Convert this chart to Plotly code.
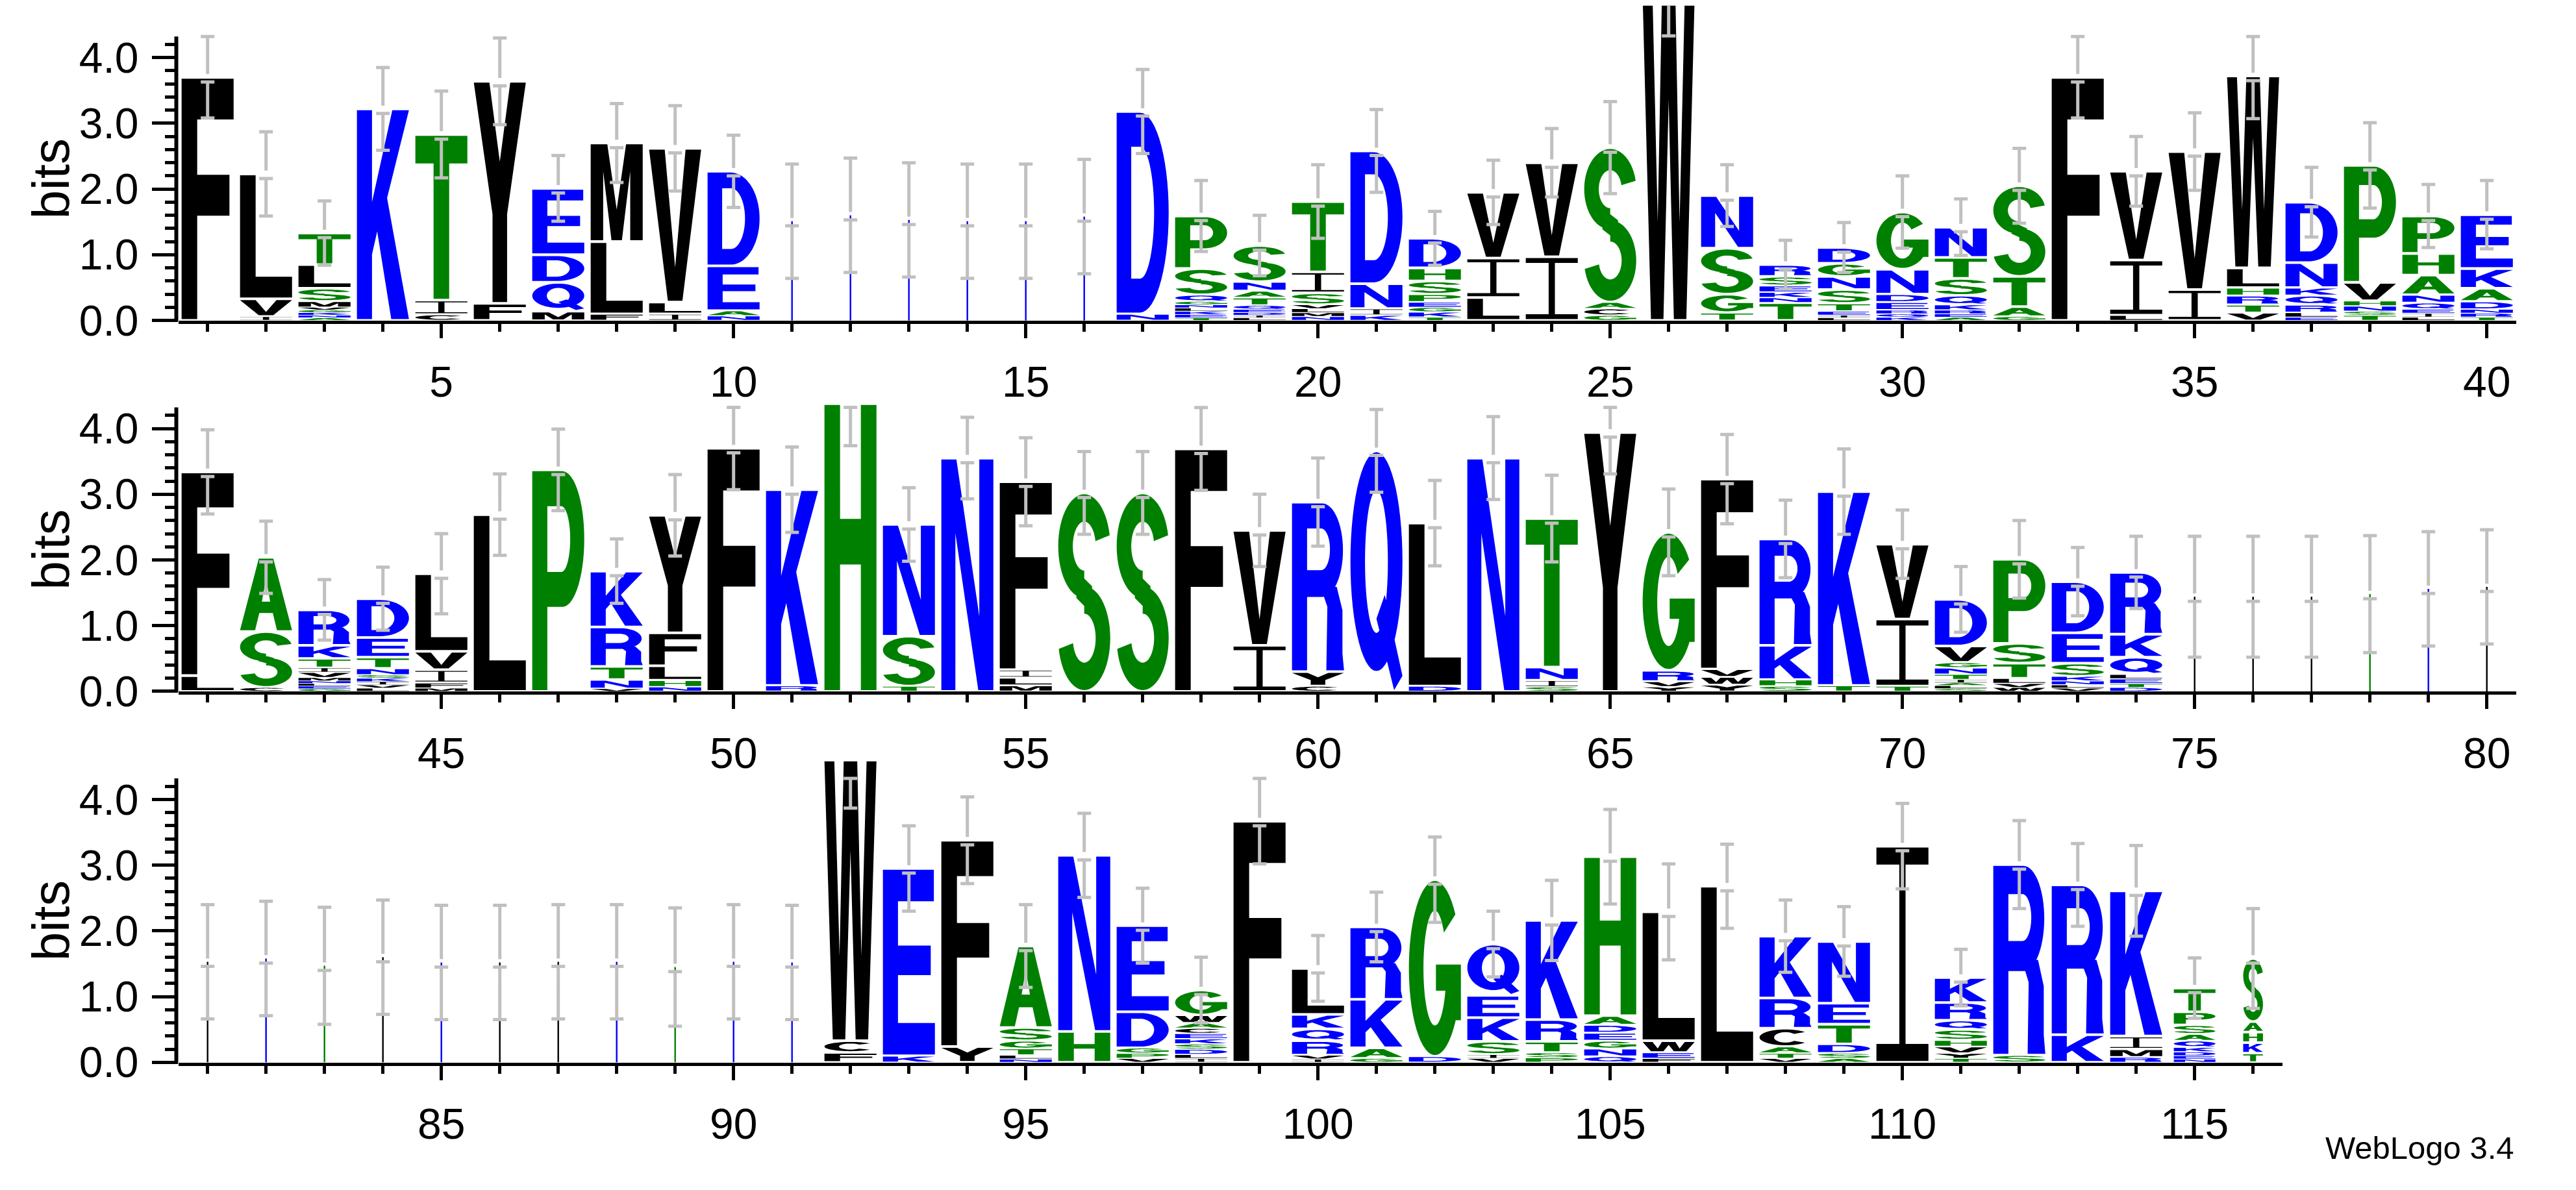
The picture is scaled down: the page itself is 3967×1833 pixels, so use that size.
import math
import plotly.graph_objects as go

# ---------------- data ----------------
# each entry: letters of one column from bottom to top, with their heights in bits
ROW1_LETTERS = ["F", "IVL", "ANKGVMSLT", "K", "CIT", "FY", "MQDE", "FLM", "ILV", "NAED",
                "D", "D", "D", "D", "D", "D", "ND", "TEKLNGQSP", "LIDEQTANS", "NMLVSIT",
                "KIND", "TKGEPSHD", "LIV", "IV", "GCAS", "W", "TGSN", "TNKESR", "LIETSNGD", "KQREDNG",
                "AERKQSTN", "GATS", "F", "LIV", "IV", "VTRHLW", "ELRQKND", "TSNHVP", "LIEQNAHP", "TRNDAKE"]
ROW1_HEIGHTS = [[3.70], [0.06, 0.27, 1.90], [0.04, 0.04, 0.04, 0.04, 0.04, 0.09, 0.20, 0.36, 0.48], [3.22],
                [0.09, 0.22, 2.52], [0.26, 3.38], [0.14, 0.44, 0.42, 1.01], [0.10, 1.10, 1.50],
                [0.10, 0.18, 2.34], [0.07, 0.08, 0.68, 1.44],
                [1.51], [1.60], [1.53], [1.51], [1.51], [1.58], [0.10, 3.08],
                [0.04, 0.05, 0.05, 0.05, 0.05, 0.05, 0.10, 0.40, 0.80],
                [0.04, 0.04, 0.04, 0.05, 0.06, 0.12, 0.10, 0.14, 0.55],
                [0.06, 0.06, 0.06, 0.06, 0.18, 0.32, 1.07],
                [0.08, 0.10, 0.38, 2.02], [0.05, 0.08, 0.07, 0.08, 0.12, 0.20, 0.20, 0.45],
                [0.35, 0.60, 1.00], [0.97, 1.43], [0.08, 0.10, 0.10, 2.35], [4.95],
                [0.12, 0.28, 0.70, 0.80], [0.27, 0.08, 0.08, 0.10, 0.14, 0.18],
                [0.04, 0.04, 0.06, 0.12, 0.21, 0.20, 0.20, 0.24], [0.05, 0.05, 0.06, 0.12, 0.12, 0.38, 0.87],
                [0.05, 0.05, 0.06, 0.08, 0.14, 0.26, 0.32, 0.46], [0.06, 0.15, 0.46, 1.38], [3.70],
                [0.08, 0.84, 1.35], [0.47, 2.10], [0.12, 0.12, 0.14, 0.12, 0.30, 2.92],
                [0.05, 0.07, 0.12, 0.14, 0.12, 0.38, 0.92], [0.08, 0.06, 0.08, 0.08, 0.28, 1.78],
                [0.05, 0.06, 0.06, 0.10, 0.12, 0.30, 0.33, 0.57], [0.05, 0.06, 0.06, 0.12, 0.20, 0.30, 0.82]]
ROW1_ERRORS = [0.62, 0.64, 0.49, 0.63, 0.66, 0.66, 0.50, 0.60, 0.65, 0.55,
               0.87, 0.87, 0.87, 0.87, 0.87, 0.87, 0.64, 0.54, 0.46, 0.56,
               0.63, 0.41, 0.49, 0.52, 0.70, 0.62, 0.47, 0.37, 0.38, 0.55,
               0.43, 0.57, 0.62, 0.53, 0.59, 0.65, 0.53, 0.65, 0.48, 0.52]
ROW1_WIDTHS = [1, 1, 1, 1, 1, 1, 1, 1, 1, 1,
               0.03, 0.03, 0.03, 0.03, 0.03, 0.03, 1, 1, 1, 1,
               1, 1, 1, 1, 1, 1, 1, 1, 1, 1,
               1, 1, 1, 1, 1, 1, 1, 1, 1, 1]

ROW2_LETTERS = ["LF", "CSA", "GELNMVITKR", "LVIKSNTED", "MFIVL", "L", "P", "VNTRK", "NHLFY", "F",
                "RK", "H", "TSN", "N", "MLIF", "S", "S", "F", "IV", "CYR",
                "Q", "DL", "N", "SINT", "Y", "YVRG", "YWVF", "SHKR", "TK", "TIV",
                "SLAITNGVD", "WVLTSP", "VLNKSED", "DTELQKR", "L", "L", "L", "G", "D", "L"]
ROW2_HEIGHTS = [[0.24, 3.10], [0.06, 0.85, 1.13], [0.04, 0.04, 0.04, 0.04, 0.05, 0.08, 0.07, 0.14, 0.20, 0.54],
                [0.05, 0.05, 0.05, 0.05, 0.05, 0.10, 0.17, 0.30, 0.59], [0.05, 0.08, 0.20, 0.28, 1.18],
                [2.69], [3.37], [0.04, 0.14, 0.20, 0.60, 0.85], [0.07, 0.10, 0.22, 0.50, 1.79], [3.70],
                [0.09, 2.98], [4.38], [0.08, 0.76, 1.70], [3.55], [0.09, 0.12, 0.12, 2.86], [3.02], [3.02],
                [3.69], [0.70, 1.75], [0.08, 0.22, 2.58],
                [3.66], [0.08, 2.48], [3.55], [0.07, 0.10, 0.20, 2.26], [3.94], [0.07, 0.08, 0.17, 2.10],
                [0.10, 0.12, 0.12, 2.89], [0.08, 0.10, 0.52, 1.62], [0.09, 2.95], [0.08, 1.02, 1.14],
                [0.04, 0.05, 0.04, 0.05, 0.08, 0.10, 0.08, 0.25, 0.71], [0.06, 0.06, 0.08, 0.23, 0.30, 1.28],
                [0.05, 0.05, 0.06, 0.07, 0.20, 0.46, 0.78], [0.06, 0.06, 0.07, 0.07, 0.26, 0.35, 0.94],
                [1.44], [1.44], [1.44], [1.48], [1.56], [1.59]]
ROW2_ERRORS = [0.64, 0.55, 0.46, 0.48, 0.61, 0.62, 0.62, 0.49, 0.62, 0.63,
               0.65, 0.64, 0.56, 0.62, 0.67, 0.63, 0.63, 0.63, 0.55, 0.67,
               0.63, 0.65, 0.63, 0.66, 0.63, 0.66, 0.68, 0.59, 0.65, 0.52,
               0.50, 0.59, 0.52, 0.55, 0.92, 0.92, 0.92, 0.89, 0.87, 0.87]
ROW2_WIDTHS = [1, 1, 1, 1, 1, 1, 1, 1, 1, 1,
               1, 1, 1, 1, 1, 1, 1, 1, 1, 1,
               1, 1, 1, 1, 1, 1, 1, 1, 1, 1,
               1, 1, 1, 1, 0.03, 0.03, 0.03, 0.03, 0.03, 0.03]

ROW3_LETTERS = ["L", "D", "G", "L", "D", "L", "L", "D", "G", "D",
                "D", "FCW", "KE", "YF", "NLTGSA", "HN", "VPGDE", "ILDSKECAWG", "F", "IVRQKL",
                "GAKR", "DG", "VISKEQ", "PSTRK", "QNGEDAH", "FEWL", "L", "VTACRK", "ASDTEN", "I",
                "TYVHSQRK", "SR", "KR", "RMIK", "NEDKQASPT", "TKHAS"]
ROW3_HEIGHTS = [[1.53], [1.58], [1.47], [1.60], [1.52], [1.52], [1.53], [1.53], [1.45], [1.53],
                [1.52], [0.15, 0.18, 4.27], [0.10, 2.85], [0.24, 3.14], [0.05, 0.06, 0.10, 0.12, 0.20, 1.24],
                [0.47, 2.68], [0.06, 0.08, 0.08, 0.55, 1.31],
                [0.06, 0.06, 0.08, 0.08, 0.08, 0.08, 0.08, 0.08, 0.12, 0.38], [3.67],
                [0.05, 0.06, 0.22, 0.18, 0.22, 0.70],
                [0.06, 0.16, 0.74, 1.10], [0.09, 2.69], [0.06, 0.06, 0.20, 0.36, 0.34, 0.78],
                [0.07, 0.08, 0.17, 0.33, 1.51], [0.09, 0.12, 0.12, 0.12, 0.12, 0.14, 2.42],
                [0.06, 0.09, 0.18, 1.96], [2.68], [0.06, 0.08, 0.10, 0.28, 0.46, 0.94],
                [0.06, 0.08, 0.14, 0.30, 0.32, 0.94], [3.29],
                [0.06, 0.08, 0.10, 0.10, 0.16, 0.14, 0.27, 0.38], [0.11, 2.90], [0.42, 2.28],
                [0.08, 0.12, 0.20, 2.21], [0.05, 0.05, 0.06, 0.07, 0.10, 0.10, 0.14, 0.20, 0.36],
                [0.14, 0.16, 0.16, 0.16, 0.96]]
ROW3_ERRORS = [0.87, 0.87, 0.89, 0.87, 0.87, 0.87, 0.87, 0.87, 0.90, 0.87,
               0.87, 0.73, 0.65, 0.66, 0.63, 0.64, 0.57, 0.50, 0.65, 0.50,
               0.53, 0.65, 0.50, 0.61, 0.72, 0.73, 0.64, 0.55, 0.53, 0.65,
               0.43, 0.67, 0.63, 0.69, 0.46, 0.76]
ROW3_WIDTHS = [0.03, 0.03, 0.03, 0.03, 0.03, 0.03, 0.03, 0.03, 0.03, 0.03,
               0.03, 1, 1, 1, 1, 1, 1, 1, 1, 1,
               1, 1, 1, 1, 1, 1, 1, 1, 1, 1,
               1, 1, 1, 1, 0.8, 0.38]

ROW_FIRST = [1, 41, 81]
ROW_LAST = [40, 80, 116]
X_TICKS = [[5, 10, 15, 20, 25, 30, 35, 40],
           [45, 50, 55, 60, 65, 70, 75, 80],
           [85, 90, 95, 100, 105, 110, 115]]
Y_TICKS = [0, 1, 2, 3, 4]
Y_TICK_TEXT = ["0.0", "1.0", "2.0", "3.0", "4.0"]
Y_MINOR = [0.2, 0.4, 0.6, 0.8, 1.2, 1.4, 1.6, 1.8, 2.2, 2.4, 2.6, 2.8, 3.2, 3.4, 3.6, 3.8, 4.2]
Y_MAX_BITS = 4.3219

# ---------------- style ----------------
W, H = 3967, 1833
BIT_PX = 103.3
X0_PX = 266.7
POS_PX = 90.0
BASE_PX = [495.6, 1078.7, 1661.9]
Y_TOP = 4.79
Y_BOT = -0.005
HALF = 0.445
FONT = "Liberation Sans, Arial, Helvetica, sans-serif"
TICK_FONT_SIZE = 66
ERR_COLOR = "#c0c0c0"
BLACK, BLUE, GREEN = "#000000", "#0000ff", "#008000"
COLOR = {}
for c in "RKDENQ":
    COLOR[c] = BLUE
for c in "SGHTAP":
    COLOR[c] = GREEN
for c in "YVMCLFIW":
    COLOR[c] = BLACK


# ---------------- glyph outlines (unit box) ----------------
def arc(cx, cy, rx, ry, a0, a1, n=None):
    if n is None:
        n = max(6, int(abs(a1 - a0) / 6))
    pts = []
    for i in range(n + 1):
        a = math.radians(a0 + (a1 - a0) * i / n)
        pts.append((cx + rx * math.cos(a), cy + ry * math.sin(a)))
    return pts


def ring_part(cx, cy, rxo, ryo, rxi, ryi, a0, a1):
    return arc(cx, cy, rxo, ryo, a0, a1) + arc(cx, cy, rxi, ryi, a1, a0)


def signed_area(p):
    s = 0.0
    for i in range(len(p)):
        x1, y1 = p[i]
        x2, y2 = p[(i + 1) % len(p)]
        s += x1 * y2 - x2 * y1
    return s / 2


def rect(u0, v0, u1, v1):
    return [(u0, v0), (u1, v0), (u1, v1), (u0, v1)]


GLYPHS = {
    "A": [([(0, 0), (0.29, 0), (0.37, 0.24), (0.63, 0.24), (0.71, 0), (1, 0), (0.64, 1), (0.36, 1)], False),
          ([(0.42, 0.40), (0.58, 0.40), (0.5, 0.72)], True)],
    "C": [(ring_part(0.5, 0.5, 0.5, 0.5, 0.22, 0.33, 42, 318), False)],
    "D": [([(0, 0), (0, 1)] + arc(0.45, 0.5, 0.55, 0.5, 90, -90), False),
          ([(0.28, 0.17), (0.28, 0.83)] + arc(0.45, 0.5, 0.27, 0.33, 90, -90), True)],
    "E": [([(0, 0), (1, 0), (1, 0.17), (0.29, 0.17), (0.29, 0.43), (0.92, 0.43), (0.92, 0.59),
            (0.29, 0.59), (0.29, 0.83), (0.98, 0.83), (0.98, 1), (0, 1)], False)],
    "F": [([(0, 0), (0.3, 0), (0.3, 0.43), (0.92, 0.43), (0.92, 0.6), (0.3, 0.6), (0.3, 0.83),
            (1, 0.83), (1, 1), (0, 1)], False)],
    "G": [(ring_part(0.5, 0.5, 0.5, 0.5, 0.22, 0.33, 38, 345), False),
          (rect(0.72, 0.2, 1.0, 0.52), False),
          (rect(0.52, 0.37, 1.0, 0.52), False)],
    "H": [([(0, 0), (0.3, 0), (0.3, 0.44), (0.7, 0.44), (0.7, 0), (1, 0), (1, 1), (0.7, 1), (0.7, 0.6),
            (0.3, 0.6), (0.3, 1), (0, 1)], False)],
    "I": [([(0, 0), (1, 0), (1, 0.08), (0.56, 0.08), (0.56, 0.92), (1, 0.92), (1, 1), (0, 1), (0, 0.92),
            (0.44, 0.92), (0.44, 0.08), (0, 0.08)], False)],
    "K": [([(0, 0), (0, 1), (0.29, 1), (0.29, 0.56), (0.68, 1), (1, 1), (0.58, 0.58), (1, 0), (0.66, 0),
            (0.39, 0.42), (0.29, 0.31), (0.29, 0)], False)],
    "L": [([(0, 0), (1, 0), (1, 0.17), (0.3, 0.17), (0.3, 1), (0, 1)], False)],
    "M": [([(0, 0), (0, 1), (0.32, 1), (0.5, 0.32), (0.68, 1), (1, 1), (1, 0), (0.76, 0), (0.76, 0.72),
            (0.6, 0), (0.4, 0), (0.24, 0.72), (0.24, 0)], False)],
    "N": [([(0, 0), (0, 1), (0.29, 1), (0.73, 0.32), (0.73, 1), (1, 1), (1, 0), (0.71, 0), (0.27, 0.68),
            (0.27, 0)], False)],
    "P": [([(0, 0), (0, 1)] + arc(0.58, 0.69, 0.42, 0.31, 90, -90) + [(0.29, 0.38), (0.29, 0)], False),
          ([(0.29, 0.54), (0.29, 0.84)] + arc(0.56, 0.69, 0.17, 0.15, 90, -90), True)],
    "Q": [(arc(0.5, 0.54, 0.5, 0.46, 0, 360, 60)[:-1], False),
          (arc(0.5, 0.54, 0.22, 0.30, 0, 360, 60)[:-1], True),
          ([(0.5, 0.3), (0.66, 0.40), (1.0, 0.06), (0.84, 0.0)], False)],
    "R": [([(0, 0), (0, 1)] + arc(0.58, 0.72, 0.40, 0.28, 90, -90) + [(0.29, 0.44), (0.29, 0)], False),
          ([(0.29, 0.6), (0.29, 0.85)] + arc(0.56, 0.725, 0.17, 0.125, 90, -90), True),
          ([(0.66, 0), (1.0, 0), (0.97, 0.1), (0.97, 0.36), (0.86, 0.5), (0.55, 0.5), (0.68, 0.38)], False)],
    "S": [(ring_part(0.5, 0.735, 0.5, 0.265, 0.22, 0.125, 12, 270), False),
          (ring_part(0.5, 0.265, 0.5, 0.265, 0.22, 0.125, -168, 90), False),
          ([(0.35, 0.47), (0.65, 0.39), (0.65, 0.53), (0.35, 0.61)], False)],
    "T": [([(0, 1), (1, 1), (1, 0.83), (0.65, 0.83), (0.65, 0), (0.35, 0), (0.35, 0.83), (0, 0.83)], False)],
    "V": [([(0, 1), (0.3, 1), (0.5, 0.22), (0.7, 1), (1, 1), (0.64, 0), (0.36, 0)], False)],
    "W": [([(0, 1), (0.19, 1), (0.29, 0.3), (0.37, 1), (0.63, 1), (0.71, 0.3), (0.81, 1), (1, 1),
            (0.84, 0), (0.6, 0), (0.5, 0.68), (0.4, 0), (0.16, 0)], False)],
    "Y": [([(0, 1), (0.3, 1), (0.5, 0.64), (0.7, 1), (1, 1), (0.64, 0.4), (0.64, 0), (0.36, 0),
            (0.36, 0.4)], False)],
}

# orient: outer contours counter-clockwise, holes clockwise (nonzero fill rule)
for key in GLYPHS:
    fixed = []
    for pts, hole in GLYPHS[key]:
        a = signed_area(pts)
        if (a > 0) == hole:
            pts = pts[::-1]
        fixed.append(pts)
    GLYPHS[key] = fixed

SOLID = [rect(0, 0, 1, 1)]   # a glyph squeezed to a hair-line column renders as a solid sliver


def glyph_path(ch, x0, x1, y0, y1, thin=False):
    parts = []
    for pts in (SOLID if thin else GLYPHS[ch]):
        seg = []
        for k, (u, v) in enumerate(pts):
            x = x0 + u * (x1 - x0)
            y = y0 + v * (y1 - y0)
            seg.append(("M" if k == 0 else "L") + f"{x:.4f},{y:.4f}")
        parts.append(" ".join(seg) + " Z")
    return " ".join(parts)


# ---------------- build figure ----------------
ROWS = [(ROW1_LETTERS, ROW1_HEIGHTS, ROW1_ERRORS, ROW1_WIDTHS),
        (ROW2_LETTERS, ROW2_HEIGHTS, ROW2_ERRORS, ROW2_WIDTHS),
        (ROW3_LETTERS, ROW3_HEIGHTS, ROW3_ERRORS, ROW3_WIDTHS)]

fig = go.Figure()
shapes = []
annotations = []
layout_axes = {}

for r in range(3):
    xs = "x" if r == 0 else f"x{r + 1}"
    ys = "y" if r == 0 else f"y{r + 1}"
    letters, heights, errs, widths = ROWS[r]
    ex, ey = [], []
    for i in range(len(letters)):
        pos = ROW_FIRST[r] + i
        w = widths[i]
        thin = w < 0.1
        y0 = 0.0
        for ch, h in zip(letters[i], heights[i]):
            pad = 0.0 if thin else min(0.02, 0.12 * h)
            shapes.append(dict(type="path",
                               path=glyph_path(ch, pos - HALF * w, pos + HALF * w, y0 + pad, y0 + h - pad, thin),
                               xref=xs, yref=ys, fillcolor=COLOR[ch], line=dict(width=0),
                               layer="below", fillrule="nonzero"))
            y0 += h
        top = y0
        e = errs[i]
        lo = max(top - e, 0.0)
        hi = top + e if lo > 4.2 else min(top + e, Y_MAX_BITS)
        if lo < top < hi:
            segs = [(lo, top - 0.07), (top + 0.05, hi)]
            caps = [lo, top - 0.07, hi]
        else:
            segs = [(lo, hi)]
            caps = [lo, hi]
        for a, b in segs:
            ex += [pos, pos, None]
            ey += [a, b, None]
        for c in caps:
            ex += [pos - 0.117, pos + 0.117, None]
            ey += [c, c, None]
    fig.add_trace(go.Scatter(x=ex, y=ey, mode="lines", line=dict(color=ERR_COLOR, width=5),
                             xaxis=xs, yaxis=ys, hoverinfo="skip", showlegend=False))

    n = ROW_LAST[r] - ROW_FIRST[r] + 1
    bottom_px = BASE_PX[r] - Y_BOT * BIT_PX
    top_px = BASE_PX[r] - Y_TOP * BIT_PX
    minor_x = [p for p in range(ROW_FIRST[r], ROW_LAST[r] + 1) if p not in X_TICKS[r]]
    layout_axes["xaxis" if r == 0 else f"xaxis{r + 1}"] = dict(
        domain=[X0_PX / W, (X0_PX + n * POS_PX) / W],
        range=[ROW_FIRST[r] - 0.5, ROW_LAST[r] + 0.5],
        tickmode="array", tickvals=X_TICKS[r], ticks="outside", ticklen=22, tickwidth=5, tickcolor="black",
        showline=True, linewidth=5, linecolor="black", showgrid=False, zeroline=False,
        tickfont=dict(size=TICK_FONT_SIZE, family=FONT, color="black"), ticklabelstandoff=11,
        minor=dict(tickmode="array", tickvals=minor_x, ticks="outside", ticklen=12, tickwidth=5,
                   tickcolor="black", showgrid=False),
        anchor=ys, fixedrange=True)
    layout_axes["yaxis" if r == 0 else f"yaxis{r + 1}"] = dict(
        domain=[max(0.0, 1 - bottom_px / H), min(1.0, 1 - top_px / H)],
        range=[Y_BOT, Y_TOP],
        tickmode="array", tickvals=Y_TICKS, ticktext=Y_TICK_TEXT, ticks="outside", ticklen=40, tickwidth=5,
        tickcolor="black", showline=False, showgrid=False, zeroline=False,
        tickfont=dict(size=TICK_FONT_SIZE, family=FONT, color="black"), ticklabelstandoff=7,
        minor=dict(tickmode="array", tickvals=Y_MINOR, ticks="outside", ticklen=20, tickwidth=5,
                   tickcolor="black", showgrid=False),
        anchor=xs, fixedrange=True)
    # y axis line only up to the maximum entropy
    shapes.append(dict(type="line", xref="paper", yref=ys, x0=263.5 / W, x1=263.5 / W, y0=-0.048, y1=Y_MAX_BITS,
                       line=dict(color="black", width=6), layer="above"))
    annotations.append(dict(text="bits", xref="paper", yref=ys, x=70.5 / W, y=2.16, textangle=-90,
                            showarrow=False, xanchor="center", yanchor="middle",
                            font=dict(size=80, family=FONT, color="black")))

annotations.append(dict(text="WebLogo 3.4", xref="paper", yref="paper", x=3866 / W, y=1 - 1826 / H,
                        xanchor="right", yanchor="bottom", showarrow=False,
                        font=dict(size=49, family=FONT, color="black")))

fig.update_layout(width=W, height=H, margin=dict(l=0, r=0, t=0, b=0, pad=0),
                  paper_bgcolor="white", plot_bgcolor="rgba(0,0,0,0)",
                  shapes=shapes, annotations=annotations, showlegend=False, **layout_axes)

fig.write_html("out.html")
